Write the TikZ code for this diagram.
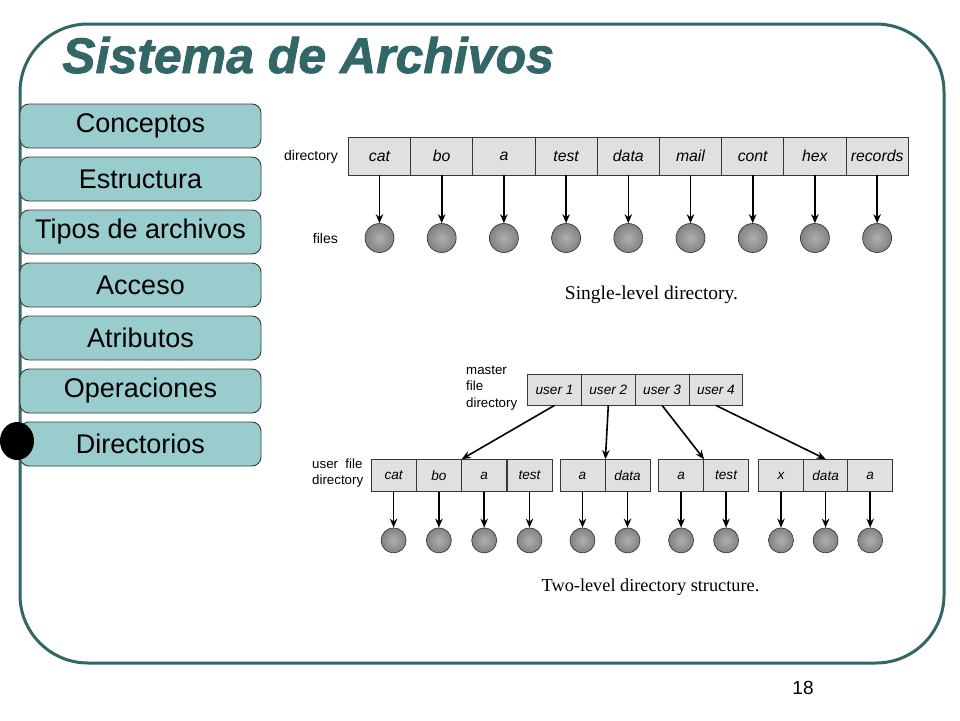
\documentclass[tikz,border=0pt]{standalone}
\usepackage{fontspec}
\setmainfont{Liberation Sans}
\newfontfamily\capfont{Liberation Serif}
\newfontfamily\titlefont[FakeBold=1.6]{Liberation Sans}
\usetikzlibrary{arrows.meta,shadings}
\definecolor{frameteal}{RGB}{51,102,102}
\definecolor{btnfill}{RGB}{153,204,204}
\definecolor{btnline}{RGB}{60,60,60}
\definecolor{cellfill}{RGB}{224,224,224}
\definecolor{cellline}{RGB}{55,55,55}
\definecolor{ballin}{RGB}{175,175,175}
\definecolor{ballout}{RGB}{130,130,130}
\tikzset{
  menubtn/.style={draw=btnline, line width=0.9pt, fill=btnfill, rounded corners=9pt,
    minimum width=241pt, minimum height=44pt, inner sep=0pt,
    font=\fontsize{27}{30}\selectfont},
  bigcell/.style={draw=cellline, line width=0.8pt, fill=cellfill, minimum width=62.2pt,
    minimum height=38pt, inner sep=0pt, font=\fontsize{15.8}{17}\selectfont\itshape},
  smallcell/.style={draw=cellline, line width=0.8pt, fill=cellfill, minimum width=45pt,
    minimum height=32pt, inner sep=0pt, font=\fontsize{13.6}{15}\selectfont\itshape},
  mcell/.style={smallcell, minimum width=53.8pt, minimum height=31pt},
  bigball/.style={circle, inner color=ballin, outer color=ballout, draw=gray!35!black,
    line width=0.6pt, minimum size=29pt, inner sep=0pt},
  smallball/.style={bigball, minimum size=25pt},
  fileptr/.style={line width=1.6pt, -{Stealth[length=9pt,width=7.5pt]}},
  lbl/.style={inner sep=0pt, font=\fontsize{14}{16}\selectfont},
  slbl/.style={inner sep=0pt, align=left, font=\fontsize{13.3}{16.5}\selectfont},
  capt/.style={inner sep=0pt, font=\capfont\fontsize{19.5}{22}\selectfont}
}
\begin{document}
\begin{tikzpicture}[x=1pt,y=-1pt]
\useasboundingbox (0,0) rectangle (960,720);
\fill[white] (0,0) rectangle (960,720);
% frame
\draw[frameteal, line width=3pt, rounded corners=68pt] (20,24) rectangle (944,663);
% title
\node[anchor=base west, inner sep=0pt, text=frameteal,
  font=\titlefont\fontsize{50}{55}\selectfont\bfseries\itshape] (title) at (62,73) {Sistema de Archivos};
% menu
\node[menubtn] (b1) at (140.5,126) {Conceptos};
\node[menubtn] (b2) at (140.5,179) {Estructura};
\node[menubtn] (b3) at (140.5,232) {Tipos de archivos};
\node[menubtn] (b4) at (140.5,285) {Acceso};
\node[menubtn] (b5) at (140.5,338) {Atributos};
\node[menubtn] (b6) at (140.5,391) {Operaciones};
\node[menubtn] (b7) at (140.5,444) {Directorios};
\fill[black] (17,441) ellipse [x radius=17pt, y radius=19pt];
% single-level directory
\node[lbl, anchor=east] (dirlbl) at (338,157) {directory};
\node[lbl, anchor=east] (fileslbl) at (338,238) {files};
\foreach \t [count=\i] in {cat,bo,a,test,data,mail,cont,hex,records}{
  \node[bigcell] (c\i) at ({348.4+31.1+62.2*(\i-1)},156) {\t};
  \node[bigball] (f\i) at ({348.4+31.1+62.2*(\i-1)},238) {};
  \draw[fileptr] (c\i.south) -- (f\i.north);
}
\node[capt] (cap1) at (651.5,295) {Single-level directory.};
% two-level directory
\node[slbl, anchor=west] (mlbl) at (466,388) {master\\file\\directory};
\node[mcell] (m1) at (554.5,389.5) {user 1};
\node[mcell] (m2) at (608.3,389.5) {user 2};
\node[mcell] (m3) at (662.1,389.5) {user 3};
\node[mcell] (m4) at (715.9,389.5) {user 4};
\node[slbl, anchor=west] (ulbl) at (312,473) {user\ \ file\\directory};
% group 1
\node[smallcell] (ua1) at (393.6,475.5) {cat};
\node[smallcell] (ua2) at (438.9,475.5) {bo};
\node[smallcell] (ua3) at (484.2,475.5) {a};
\node[smallcell] (ua4) at (529.5,475.5) {test};
% group 2
\node[smallcell] (ub1) at (582.5,475.5) {a};
\node[smallcell] (ub2) at (627.5,475.5) {data};
% group 3
\node[smallcell] (uc1) at (681.1,475.5) {a};
\node[smallcell] (uc2) at (726.1,475.5) {test};
% group 4
\node[smallcell] (ud1) at (781.0,475.5) {x};
\node[smallcell] (ud2) at (825.6,475.5) {data};
\node[smallcell] (ud3) at (870.2,475.5) {a};
\foreach \n in {ua1,ua2,ua3,ua4,ub1,ub2,uc1,uc2,ud1,ud2,ud3}{
  \path (\n.south) ++(0,48.5) node[smallball] (g\n) {};
  \draw[fileptr] (\n.south) -- (g\n.north);
}
\draw[fileptr] (m1.south) -- (ua2.north east);
\draw[fileptr] (m2.south) -- (ub1.north east);
\draw[fileptr] (m3.south) -- (uc1.north east);
\draw[fileptr] (m4.south) -- (ud2.north);
\node[capt, font=\capfont\fontsize{18.3}{21}\selectfont] (cap2) at (650.5,587) {Two-level directory structure.};
% page number
\node[inner sep=0pt, font=\fontsize{19}{21}\selectfont] (pnum) at (803,688) {18};
\end{tikzpicture}
\end{document}
